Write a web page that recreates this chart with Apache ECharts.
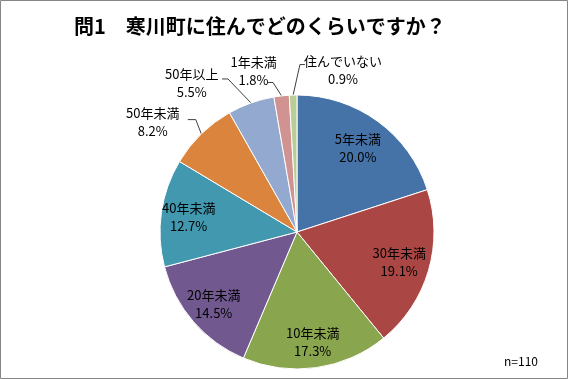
<!DOCTYPE html>
<html><head><meta charset="utf-8">
<script src="https://cdn.jsdelivr.net/npm/echarts@6/dist/echarts.min.js"></script>
<style>html,body{margin:0;padding:0;background:#fff}#c{width:568px;height:379px}</style>
</head><body><div id="c"></div>
<script>
const titleText = '問1　寒川町に住んでどのくらいですか？';
const categories = ['5年未満','30年未満','10年未満','20年未満','40年未満','50年未満','50年以上','1年未満','住んでいない'];
const percents = [20.0, 19.1, 17.3, 14.5, 12.7, 8.2, 5.5, 1.8, 0.9];
const sampleNote = 'n=110';

const colors = ['#4572A7','#AA4643','#89A54E','#71588F','#4198AF','#DB843D','#93A9CF','#D19392','#B9CD96'];
const CX = 297, CY = 232, R = 137;
const FONT = '"Noto Sans CJK JP", "Noto Sans", sans-serif';
// radial placement factor for inside labels (relative to ECharts default)
const insideScale = { '5年未満': 1.45, '30年未満': 1.49, '10年未満': 1.56, '20年未満': 1.54, '40年未満': 1.53 };
// leader line shape for outside labels: bend offset from slice edge, horizontal run, label centre offset from line end
const outsideTweaks = {
  '50年未満':   { bend: [-5.6, -14.3], run: -8, lab: [-35, 2.5] },
  '50年以上':   { bend: [-23, -24], run: -6, lab: [-30.3, 4.4] },
  '1年未満':    { bend: [-8.5, -13.4], run: -5, lab: [-14.5, -11.3] },
  '住んでいない': { bend: [6.8, -30.5], run: 5, lab: [38, 5.4] }
};

const data = categories.map((name, i) => {
  const item = { name: name, value: percents[i], itemStyle: { color: colors[i] } };
  if (outsideTweaks[name]) {
    item.label = { position: 'outside' };
    item.labelLine = { show: true, length: 10, length2: 6 };
  }
  return item;
});

const chart = echarts.init(document.getElementById('c'), null, { renderer: 'canvas' });
chart.setOption({
  animation: false,
  backgroundColor: '#fff',
  title: [{
    text: titleText, left: 69, top: 11,
    textStyle: { fontFamily: FONT, fontSize: 20, fontWeight: 'bold', color: '#000' }
  }, {
    text: sampleNote, right: 25, top: 350,
    textStyle: { fontFamily: FONT, fontSize: 12, fontWeight: 'normal', color: '#000' }
  }],
  graphic: [{
    type: 'rect', shape: { x: 0.5, y: 0.5, width: 567, height: 378 },
    style: { fill: 'none', stroke: '#868686', lineWidth: 1 }, silent: true
  }],
  series: [{
    type: 'pie',
    center: [CX, CY],
    radius: [0, R],
    startAngle: 90,
    clockwise: true,
    avoidLabelOverlap: false,
    data: data,
    itemStyle: { borderColor: '#fff', borderWidth: 1 },
    label: {
      show: true, position: 'inside',
      fontFamily: FONT, fontSize: 13, lineHeight: 18, color: '#000',
      formatter: p => p.name + '\n' + p.value.toFixed(1) + '%'
    },
    labelLine: { show: false, lineStyle: { color: '#404040', width: 1 } },
    emphasis: { disabled: true },
    labelLayout: function (p) {
      const name = categories[p.dataIndex];
      const tw = outsideTweaks[name];
      const r = p.labelRect;
      const lcx = r.x + r.width / 2, lcy = r.y + r.height / 2;
      if (!tw) {
        const s = insideScale[name] || 1.55;
        return { x: CX + (lcx - CX) * s, y: CY + (lcy - CY) * s, align: 'center', verticalAlign: 'middle' };
      }
      const p0 = p.labelLinePoints[0].slice();
      const p1 = [p0[0] + tw.bend[0], p0[1] + tw.bend[1]];
      const p2 = [p1[0] + tw.run, p1[1]];
      return {
        x: p2[0] + tw.lab[0], y: p2[1] + tw.lab[1],
        align: 'center', verticalAlign: 'middle',
        labelLinePoints: [p0, p1, p2]
      };
    }
  }]
});
</script></body></html>
